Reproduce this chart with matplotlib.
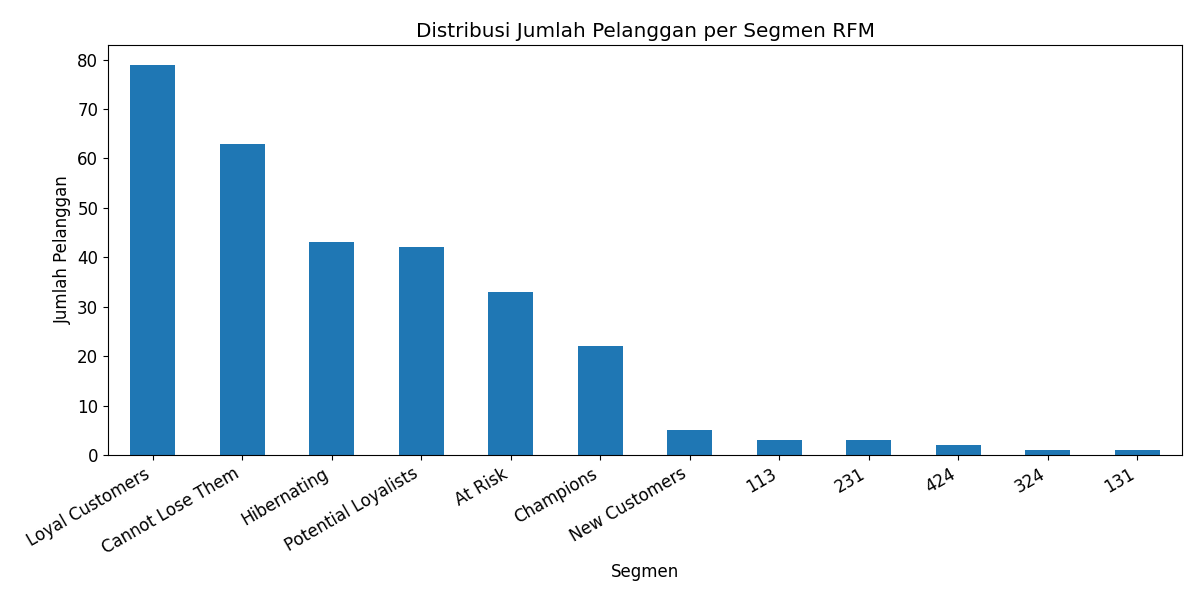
import matplotlib
matplotlib.use("Agg")
import matplotlib.pyplot as plt
import pandas as pd

segments = ["Loyal Customers", "Cannot Lose Them", "Hibernating", "Potential Loyalists",
            "At Risk", "Champions", "New Customers", "113", "231", "424", "324", "131"]
counts = [79, 63, 43, 42, 33, 22, 5, 3, 3, 2, 1, 1]

plt.rcParams["font.size"] = 12
s = pd.Series(counts, index=segments)
fig, ax = plt.subplots(figsize=(12, 6), dpi=100)
s.plot(kind="bar", ax=ax, color="#1f77b4")
ax.set_title("Distribusi Jumlah Pelanggan per Segmen RFM", fontsize=14.4)
ax.set_xlabel("Segmen", fontsize=12)
ax.set_ylabel("Jumlah Pelanggan", fontsize=12)
ax.tick_params(axis="both", labelsize=12)
plt.setp(ax.get_xticklabels(), rotation=30, ha="right")
fig.subplots_adjust(left=0.09, right=0.985, top=0.925, bottom=0.2417)
fig.savefig("out.png", dpi=100)
